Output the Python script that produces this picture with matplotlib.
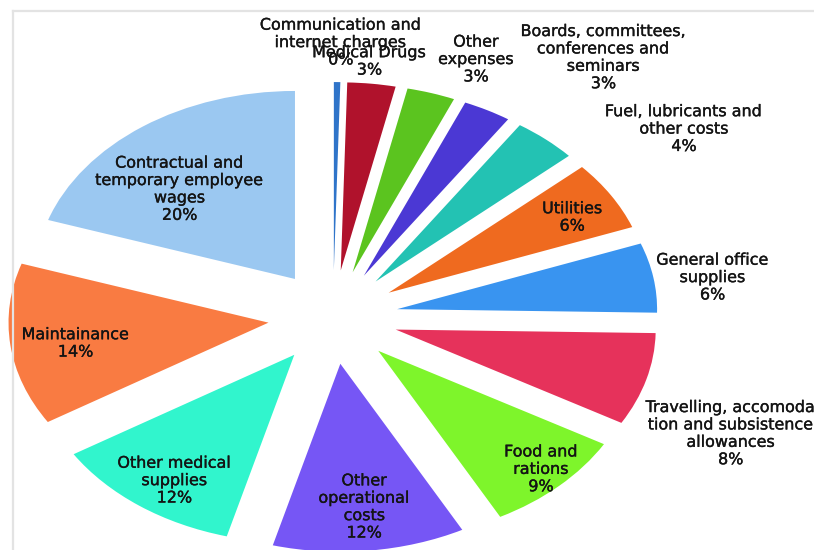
import matplotlib.pyplot as plt
import matplotlib.patheffects as pe
from matplotlib.lines import Line2D

# expense shares, clockwise from 12 o'clock
categories = [
    'Communication and\ninternet charges',
    'Medical Drugs',
    'Other\nexpenses',
    'Boards, committees,\nconferences and\nseminars',
    'Fuel, lubricants and\nother costs',
    'Utilities',
    'General office\nsupplies',
    'Travelling, accomoda\ntion and subsistence\nallowances',
    'Food and\nrations',
    'Other\noperational\ncosts',
    'Other medical\nsupplies',
    'Maintainance',
    'Contractual and\ntemporary employee\nwages',
]
shares = [0.4, 3, 3, 3, 4, 6, 6, 8, 9, 12, 12, 14, 20]

colors = ['#2f74c9', '#b0122c', '#5bc41f', '#4b38d4', '#23c2b3', '#ef6a1f',
          '#3994f0', '#e6325b', '#7ef52b', '#7656f5', '#31f5cd', '#f97b42',
          '#9bc8f1']

# where each label sits (axes data units, pie centre at 0,0)
label_pos = [(0.03, 1.46), (0.14, 1.36), (0.55, 1.37), (1.04, 1.38),
             (1.35, 1.00), (0.92, 0.53), (1.46, 0.21), (1.53, -0.62),
             (0.80, -0.81), (0.12, -1.01), (-0.61, -0.87), (-0.99, -0.14),
             (-0.59, 0.68)]

fig = plt.figure(figsize=(8.14, 5.5), dpi=100)
ax = fig.add_axes([13 / 814, 0, 1 - 13 / 814, 1 - 11 / 550])

wedges, _ = ax.pie(shares, colors=colors, startangle=90, counterclock=False,
                   explode=[0.25] * len(shares), radius=1.0,
                   wedgeprops=dict(linewidth=0))
ax.set_aspect('auto')
ax.set_xlim(-1.231, 1.85)
ax.set_ylim(-1.239, 1.628)
ax.axis('off')

total = sum(shares)
for name, val, (x, y) in zip(categories, shares, label_pos):
    ax.text(x, y, f'{name}\n{val / total * 100:.0f}%', ha='center', va='center',
            fontsize=11.5, family='DejaVu Sans', color='#141414', linespacing=1.2,
            clip_on=False,
            path_effects=[pe.withStroke(linewidth=0.25, foreground='#141414')])

# light chart-area border
fig.add_artist(Line2D([12.5 / 814, 12.5 / 814], [0, 1 - 10.5 / 550],
                      transform=fig.transFigure, color='#e3e3e3', lw=1.6))
fig.add_artist(Line2D([12.5 / 814, 1], [1 - 10.5 / 550, 1 - 10.5 / 550],
                      transform=fig.transFigure, color='#e3e3e3', lw=1.6))

fig.savefig('out.png', dpi=100)
